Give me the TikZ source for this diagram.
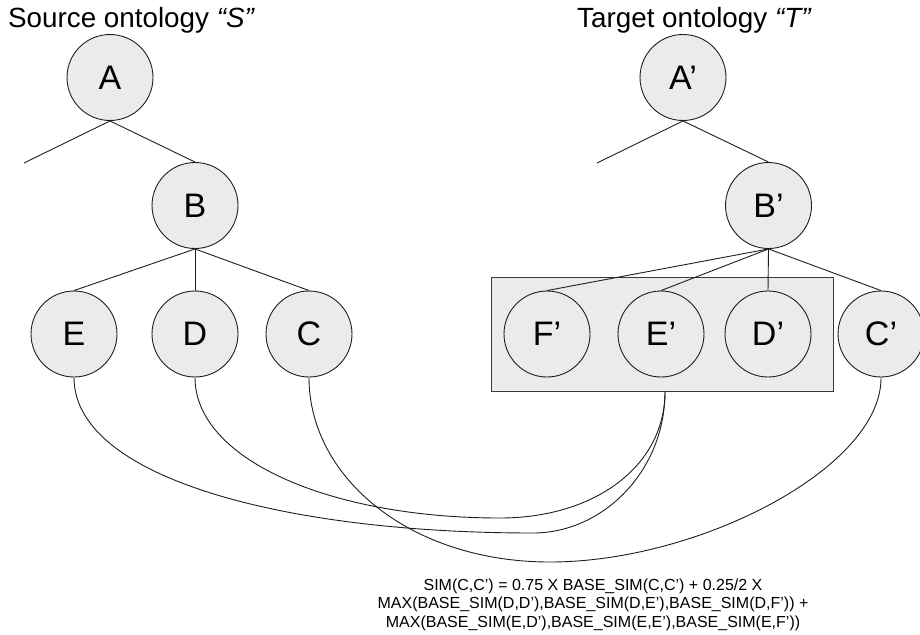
\documentclass[tikz,border=0pt]{standalone}
\usepackage{fontspec}
\setmainfont{Liberation Sans}
\definecolor{linec}{HTML}{1E1E1E}
\definecolor{nodefill}{HTML}{EBEBEB}
\definecolor{boxline}{HTML}{3A3A3A}
\begin{document}
\begin{tikzpicture}[x=1pt,y=-1pt,
  concept/.style={circle, draw=linec, fill=nodefill, line width=0.9pt,
    minimum size=86pt, inner sep=0pt, font=\fontsize{34}{40}\selectfont},
  group/.style={rectangle, draw=boxline, fill=nodefill, line width=1pt,
    minimum width=342pt, minimum height=114pt, inner sep=0pt},
  edge/.style={draw=linec, line width=0.9pt},
  link/.style={draw=linec, line width=0.9pt},
  title/.style={anchor=base west, inner sep=0pt, font=\fontsize{27.8}{32}\selectfont},
  formula/.style={anchor=north, inner sep=0pt, align=center,
    font=\fontsize{16}{18.5}\selectfont}]
\useasboundingbox (0,0) rectangle (920,634);

% titles
\node[title] (ts) at (8,28) {Source ontology \textit{“S”}};
\node[title] (tt) at (577,28) {Target ontology \textit{“T”}};

% group of target siblings
\node[group] (grp) at (662,334) {};

% source tree
\node[concept] (A) at (110,77.5) {A};
\node[concept] (B) at (195,205.5) {B};
\node[concept] (E) at (74,334) {E};
\node[concept] (D) at (195,334) {D};
\node[concept] (C) at (309,334) {C};
\coordinate (sl) at (24,163);

% target tree
\node[concept] (At) at (683,77.5) {A’};
\node[concept] (Bt) at (768.5,205.5) {B’};
\node[concept] (Ft) at (547,334) {F’};
\node[concept] (Et) at (661,334) {E’};
\node[concept] (Dt) at (768,334) {D’};
\node[concept] (Ct) at (881,334) {C’};
\coordinate (tl) at (597,163);

% tree edges
\path[edge] (A.south) -- (sl);
\path[edge] (A.south) -- (B.north);
\path[edge] (B.south) -- (E.north);
\path[edge] (B.south) -- (D.north);
\path[edge] (B.south) -- (C.north);
\path[edge] (At.south) -- (tl);
\path[edge] (At.south) -- (Bt.north);
\path[edge] (Bt.south) -- (Ft.north);
\path[edge] (Bt.south) -- (Et.north);
\path[edge] (Bt.south) -- (Dt.north);
\path[edge] (Bt.south) -- (Ct.north);

% correspondence links
\coordinate (gend) at ([xshift=3pt]grp.south);
\coordinate (eLow) at (533,533);
\coordinate (dLow) at (500,518);
\coordinate (cLow) at (550,562);
\path[link] (E.south) .. controls +(0,100) and (283,533) .. (eLow)
  .. controls (603,533) and (665,471) .. (gend);
\path[link] (D.south) .. controls +(0,82) and (330,518) .. (dLow)
  .. controls (595,518) and (665,466) .. (gend);
\path[link] (C.south) .. controls +(0,100) and (410,562) .. (cLow)
  .. controls (700,562) and (882,467) .. (Ct.south);

% similarity formula
\node[formula] (f) at (593,578.3)
  {SIM(C,C’) = 0.75 X BASE\_SIM(C,C’) + 0.25/2 X\\
   MAX(BASE\_SIM(D,D’),BASE\_SIM(D,E’),BASE\_SIM(D,F’)) +\\
   MAX(BASE\_SIM(E,D’),BASE\_SIM(E,E’),BASE\_SIM(E,F’))};
\end{tikzpicture}
\end{document}
